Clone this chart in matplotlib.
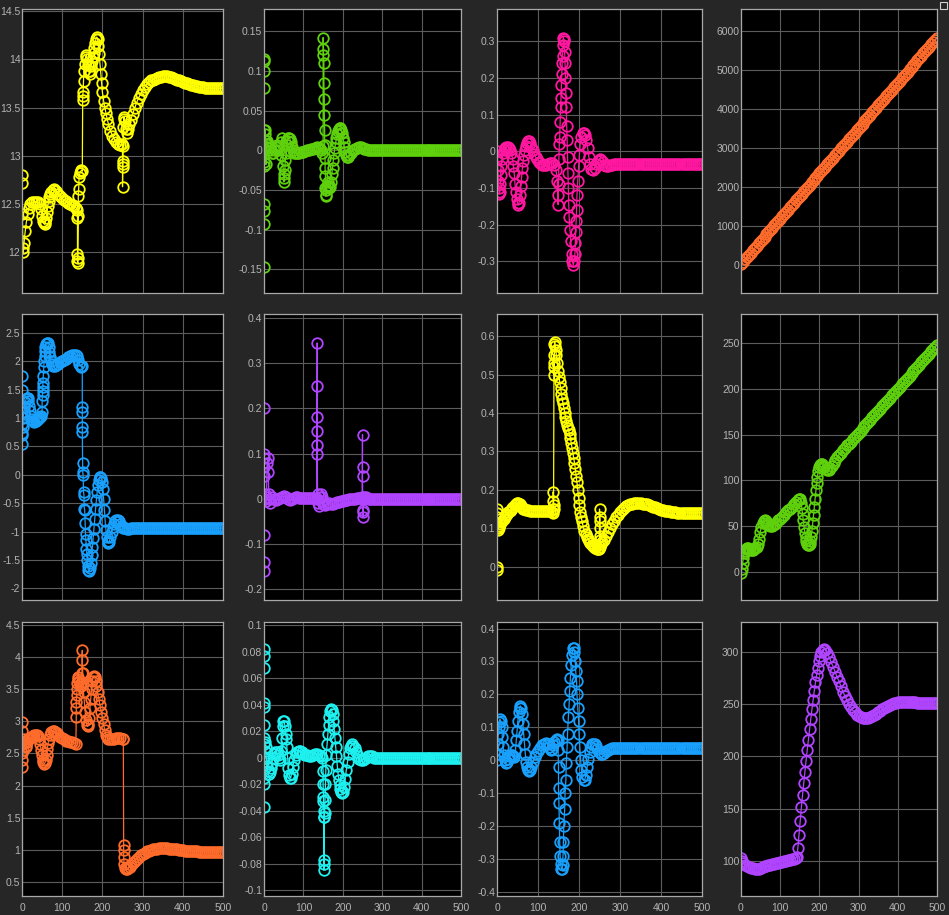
import matplotlib
matplotlib.use("Agg")
import matplotlib.pyplot as plt
from matplotlib.patches import Rectangle

# ---------------- data (time, value) ----------------
yellow_a = [(0,12.80),(0,12.72),(1,12.40),(2,12.05),(3,12.00),(5,12.10),(8,12.22),(11,12.32),(14,12.40),(17,12.46),
    (20,12.50),(25,12.52),(30,12.52),(35,12.52),(40,12.52),(44,12.50),(47,12.45),(50,12.38),(52,12.33),(54,12.30),
    (56,12.29),(58,12.31),(60,12.36),(62,12.42),(64,12.48),(66,12.53),(68,12.57),(70,12.60),(73,12.63),(76,12.65),
    (80,12.66),(85,12.64),(90,12.61),(95,12.58),(100,12.56),(105,12.54),(110,12.53),(115,12.51),(120,12.50),(125,12.49),
    (130,12.48),(135,12.46),(138,12.44),(138,12.36),(138,11.98),(138,11.91),(139,11.89),(139,11.94),(140,12.38),(140,12.58),
    (141,12.66),(142,12.78),(144,12.82),(146,12.84),(148,12.85),(150,12.84),(151,13.58),(151,13.62),(152,13.66),(153,13.77),
    (154,13.88),(156,13.95),(158,14.02),(160,14.04),(162,14.00),(164,13.94),(166,13.88),(168,13.85),(170,13.88),(172,13.93),
    (174,13.98),(176,14.02),(178,14.06),(180,14.12),(182,14.17),(184,14.21),(186,14.23),(188,14.21),(190,14.14),(192,14.05),
    (194,13.95),(196,13.85),(198,13.75),(200,13.66),(203,13.57),(206,13.50),(209,13.44),(212,13.38),(215,13.33),(220,13.26),
    (225,13.21),(230,13.17),(235,13.14),(240,13.12),(245,13.11),(248,13.12),(250,13.10),(250,12.95),(250,12.88),(250,12.68),
    (251,12.92),(252,13.30),(253,13.38),(254,13.40),(256,13.36),(258,13.28),(261,13.24),(264,13.28),(267,13.33),(270,13.37),
    (275,13.43),(280,13.49),(285,13.55),(290,13.60),(295,13.64),(300,13.68),(305,13.71),(310,13.74),(315,13.76),(320,13.78),
    (325,13.79),(330,13.80),(335,13.81),(340,13.82),(345,13.82),(350,13.83),(355,13.83),(360,13.83),(365,13.82),(370,13.82),
    (375,13.81),(380,13.80),(385,13.79),(390,13.78),(395,13.77),(400,13.76),(405,13.75),(410,13.75),(415,13.74),(420,13.73),
    (425,13.73),(430,13.72),(435,13.72),(440,13.71),(445,13.71),(450,13.71),(455,13.70),(460,13.70),(465,13.70),(470,13.70),
    (475,13.70),(480,13.70),(485,13.70),(490,13.70),(495,13.70),(500,13.70)]

green_a = [(0,0.0),(0,0.115),(0,0.112),(0,0.100),(0,0.078),(0,0.025),(0,-0.015),(0,-0.068),(0,-0.077),(0,-0.093),
    (0,-0.147),(1,-0.02),(2,0.02),(3,0.025),(4,0.012),(5,-0.018),(6,0.008),(8,0.012),(10,0.008),(12,0.004),
    (15,0.003),(18,0.0),(21,-0.003),(24,-0.004),(27,0.0),(30,0.004),(33,0.006),(36,0.004),(39,0.0),(42,-0.006),
    (44,0.010),(46,0.015),(48,-0.020),(50,-0.030),(51,-0.040),(52,-0.035),(53,-0.025),(54,-0.012),(56,-0.004),(58,0.006),
    (60,0.012),(62,0.015),(64,0.016),(66,0.014),(68,0.010),(70,0.004),(73,0.0),(76,-0.003),(80,-0.004),(85,-0.004),
    (90,-0.003),(95,-0.002),(100,-0.002),(105,-0.001),(110,0.0),(115,0.0),(120,0.001),(125,0.002),(130,0.003),(135,0.004),
    (140,0.003),(145,0.0),(148,-0.003),(150,0.005),(150,0.142),(151,0.128),(151,0.120),(152,0.110),(152,0.085),(153,0.064),
    (153,0.045),(154,0.025),(154,0.006),(155,-0.010),(155,-0.022),(156,-0.032),(156,-0.048),(157,-0.056),(157,-0.058),(158,-0.050),
    (160,-0.045),(162,-0.040),(164,-0.045),(166,-0.048),(168,-0.046),(170,-0.040),(172,-0.030),(174,-0.022),(176,-0.012),(178,-0.003),
    (180,0.003),(182,0.010),(184,0.015),(186,0.020),(188,0.024),(190,0.027),(192,0.028),(194,0.028),(196,0.026),(198,0.022),
    (200,0.016),(202,0.010),(204,0.004),(206,-0.002),(208,-0.006),(210,-0.008),(213,-0.008),(216,-0.006),(220,-0.003),(225,0.0),
    (230,0.002),(235,0.003),(240,0.004),(245,0.004),(250,0.003),(255,0.002),(260,0.001),(265,0.0),(270,0.0),(275,0.0),
    (280,0.0),(285,0.0),(290,0.0),(295,0.0),(300,0.0),(305,0.0),(310,0.0),(315,0.0),(320,0.0),(325,0.0),
    (330,0.0),(335,0.0),(340,0.0),(345,0.0),(350,0.0),(355,0.0),(360,0.0),(365,0.0),(370,0.0),(375,0.0),
    (380,0.0),(385,0.0),(390,0.0),(395,0.0),(400,0.0),(405,0.0),(410,0.0),(415,0.0),(420,0.0),(425,0.0),
    (430,0.0),(435,0.0),(440,0.0),(445,0.0),(450,0.0),(455,0.0),(460,0.0),(465,0.0),(470,0.0),(475,0.0),
    (480,0.0),(485,0.0),(490,0.0),(495,0.0),(500,0.0)]

pink_a = [(0,0.0),(1,-0.02),(2,-0.05),(3,-0.08),(4,-0.10),(5,-0.11),(6,-0.115),(7,-0.11),(8,-0.09),(9,-0.065),
    (10,-0.04),(12,-0.02),(14,-0.005),(17,0.005),(20,0.01),(23,0.012),(26,0.012),(29,0.01),(32,0.005),(35,-0.005),
    (38,-0.02),(40,-0.04),(42,-0.06),(44,-0.09),(46,-0.11),(48,-0.13),(50,-0.14),(52,-0.145),(54,-0.14),(56,-0.12),
    (58,-0.095),(60,-0.07),(62,-0.045),(64,-0.025),(66,-0.01),(68,0.005),(70,0.015),(72,0.022),(75,0.027),(78,0.027),
    (81,0.022),(84,0.013),(87,0.003),(90,-0.006),(94,-0.015),(98,-0.022),(102,-0.028),(106,-0.033),(110,-0.036),(115,-0.038),
    (120,-0.038),(125,-0.035),(130,-0.032),(135,-0.032),(140,-0.038),(144,-0.05),(147,-0.08),(148,-0.12),(149,-0.145),(150,-0.09),
    (151,-0.02),(152,0.02),(153,0.04),(154,0.08),(155,0.12),(156,0.145),(157,0.18),(158,0.21),(159,0.24),(160,0.26),
    (161,0.29),(162,0.31),(163,0.305),(164,0.30),(165,0.27),(166,0.24),(167,0.20),(168,0.16),(169,0.12),(170,0.07),
    (171,0.03),(172,-0.015),(173,-0.06),(174,-0.10),(175,-0.145),(176,-0.18),(178,-0.215),(180,-0.245),(182,-0.28),(184,-0.30),
    (186,-0.31),(188,-0.30),(190,-0.28),(191,-0.25),(192,-0.22),(193,-0.19),(194,-0.16),(195,-0.12),(197,-0.08),(199,-0.04),
    (201,-0.01),(203,0.02),(206,0.04),(209,0.05),(212,0.05),(215,0.045),(218,0.03),(221,0.01),(224,-0.015),(227,-0.035),
    (230,-0.048),(234,-0.05),(238,-0.045),(242,-0.035),(246,-0.027),(250,-0.022),(254,-0.024),(258,-0.03),(262,-0.036),(266,-0.04),
    (270,-0.04),(275,-0.038),(280,-0.036),(285,-0.035),(290,-0.035),(295,-0.035),(300,-0.035),(305,-0.035),(310,-0.035),(315,-0.035),
    (320,-0.035),(325,-0.035),(330,-0.035),(335,-0.035),(340,-0.035),(345,-0.035),(350,-0.035),(355,-0.035),(360,-0.035),(365,-0.035),
    (370,-0.035),(375,-0.035),(380,-0.035),(385,-0.035),(390,-0.035),(395,-0.035),(400,-0.035),(405,-0.035),(410,-0.035),(415,-0.035),
    (420,-0.035),(425,-0.035),(430,-0.035),(435,-0.035),(440,-0.035),(445,-0.035),(450,-0.035),(455,-0.035),(460,-0.035),(465,-0.035),
    (470,-0.035),(475,-0.035),(480,-0.035),(485,-0.035),(490,-0.035),(495,-0.035),(500,-0.035)]

grid_t = list(range(0, 505, 5))
orange_ramp = [40,98,156,214,272,330,388,446,504,562,620,678,736,794,852,910,968,1026,1084,1142,
    1200,1258,1316,1374,1432,1490,1548,1606,1664,1722,1780,1838,1896,1954,2012,2070,2128,2186,2244,2302,
    2360,2418,2476,2534,2592,2650,2708,2766,2824,2882,2940,2998,3056,3114,3172,3230,3288,3346,3404,3462,
    3520,3578,3636,3694,3752,3810,3868,3926,3984,4042,4100,4158,4216,4274,4332,4390,4448,4506,4564,4622,
    4680,4738,4796,4854,4912,4970,5028,5086,5144,5202,5260,5318,5376,5434,5492,5550,5608,5666,5724,5782,5840]

blue_a = [(0,1.75),(0,1.50),(0,1.10),(0,0.90),(0,0.74),(0,0.55),(1,0.70),(2,0.85),(3,1.00),(4,1.10),
    (6,1.20),(8,1.28),(10,1.33),(12,1.36),(14,1.35),(16,1.30),(18,1.22),(20,1.12),(22,1.04),(25,0.98),
    (28,0.95),(31,0.94),(34,0.95),(37,0.97),(40,0.99),(43,1.01),(46,1.02),(48,1.03),(50,1.10),(50,1.30),
    (51,1.40),(51,1.48),(52,1.55),(52,1.62),(53,1.75),(54,1.90),(55,2.00),(56,2.10),(57,2.18),(58,2.25),
    (60,2.30),(62,2.33),(64,2.32),(66,2.26),(68,2.17),(70,2.07),(72,2.00),(75,1.95),(78,1.92),(81,1.91),
    (85,1.93),(90,1.96),(95,1.99),(100,2.01),(105,2.03),(110,2.05),(115,2.07),(120,2.09),(125,2.11),(130,2.12),
    (134,2.12),(137,2.09),(140,2.02),(143,1.95),(146,1.92),(148,1.90),(150,1.92),(150,1.20),(150,1.10),(150,0.85),
    (150,0.75),(151,0.20),(151,0.05),(152,0.00),(153,-0.30),(154,-0.35),(155,-0.60),(156,-0.62),(157,-0.85),(158,-1.05),
    (159,-1.15),(160,-1.30),(161,-1.40),(162,-1.50),(163,-1.60),(165,-1.68),(167,-1.70),(169,-1.65),(171,-1.55),(173,-1.42),
    (175,-1.28),(177,-1.12),(179,-0.95),(181,-0.78),(183,-0.60),(185,-0.45),(187,-0.30),(189,-0.18),(191,-0.09),(193,-0.04),
    (195,-0.03),(197,-0.05),(199,-0.12),(201,-0.25),(203,-0.42),(205,-0.62),(207,-0.82),(209,-0.98),(211,-1.10),(213,-1.17),
    (215,-1.20),(217,-1.18),(220,-1.10),(223,-1.00),(226,-0.92),(229,-0.86),(232,-0.82),(235,-0.80),(238,-0.80),(241,-0.82),
    (244,-0.86),(248,-0.90),(252,-0.93),(256,-0.94),(260,-0.95),(265,-0.95),(270,-0.94),(275,-0.94),(280,-0.93),(285,-0.93),
    (290,-0.93),(295,-0.94),(300,-0.94),(305,-0.94),(310,-0.94),(315,-0.94),(320,-0.94),(325,-0.94),(330,-0.94),(335,-0.94),
    (340,-0.94),(345,-0.94),(350,-0.94),(355,-0.94),(360,-0.94),(365,-0.94),(370,-0.94),(375,-0.94),(380,-0.94),(385,-0.94),
    (390,-0.94),(395,-0.94),(400,-0.94),(405,-0.94),(410,-0.94),(415,-0.94),(420,-0.94),(425,-0.94),(430,-0.94),(435,-0.94),
    (440,-0.94),(445,-0.94),(450,-0.94),(455,-0.94),(460,-0.94),(465,-0.94),(470,-0.94),(475,-0.94),(480,-0.94),(485,-0.94),
    (490,-0.94),(495,-0.94),(500,-0.94)]

purple_a = [(0,0.0),(0,0.20),(0,0.10),(0,0.09),(0,0.07),(0,0.05),(0,-0.08),(0,-0.14),(0,-0.16),(1,0.0),
    (2,0.01),(4,0.005),(6,-0.005),(8,0.08),(10,0.09),(11,0.06),(12,0.01),(14,-0.01),(16,0.0),(20,0.005),
    (25,0.0),(30,-0.002),(35,0.0),(40,0.002),(45,0.004),(50,0.006),(55,0.004),(60,0.0),(65,-0.002),(70,0.0),
    (75,0.002),(80,0.003),(85,0.003),(90,0.002),(95,0.002),(100,0.002),(105,0.002),(110,0.002),(115,0.002),(120,0.002),
    (125,0.002),(130,0.002),(134,0.0),(135,0.345),(135,0.25),(135,0.18),(135,0.15),(135,0.12),(135,0.10),(136,0.01),
    (138,-0.01),(140,-0.015),(142,0.005),(144,0.01),(146,0.005),(148,-0.005),(150,-0.012),(155,-0.014),(160,-0.012),(165,-0.01),
    (170,-0.012),(175,-0.012),(180,-0.01),(185,-0.008),(190,-0.006),(195,-0.005),(200,-0.004),(205,-0.003),(210,-0.002),(215,-0.001),
    (220,0.0),(225,0.0),(230,0.0),(235,0.001),(240,0.002),(245,0.002),(249,0.003),(250,0.142),(250,0.07),(250,0.05),
    (251,-0.025),(251,-0.03),(251,-0.04),(252,0.0),(254,0.005),(258,0.003),(262,0.002),(266,0.0),(270,0.0),(275,0.0),
    (280,0.0),(285,0.0),(290,0.0),(295,0.0),(300,0.0),(305,0.0),(310,0.0),(315,0.0),(320,0.0),(325,0.0),
    (330,0.0),(335,0.0),(340,0.0),(345,0.0),(350,0.0),(355,0.0),(360,0.0),(365,0.0),(370,0.0),(375,0.0),
    (380,0.0),(385,0.0),(390,0.0),(395,0.0),(400,0.0),(405,0.0),(410,0.0),(415,0.0),(420,0.0),(425,0.0),
    (430,0.0),(435,0.0),(440,0.0),(445,0.0),(450,0.0),(455,0.0),(460,0.0),(465,0.0),(470,0.0),(475,0.0),
    (480,0.0),(485,0.0),(490,0.0),(495,0.0),(500,0.0)]

yellow_b = [(0,-0.01),(0,0.0),(0,0.14),(0,0.15),(0,0.13),(1,0.10),(2,0.095),(4,0.10),(6,0.105),(8,0.11),
    (10,0.115),(13,0.12),(16,0.125),(19,0.13),(22,0.135),(25,0.138),(28,0.141),(31,0.144),(34,0.148),(37,0.152),
    (40,0.156),(43,0.16),(46,0.163),(49,0.165),(52,0.165),(55,0.162),(58,0.158),(61,0.154),(64,0.151),(67,0.149),
    (70,0.148),(75,0.147),(80,0.146),(85,0.146),(90,0.146),(95,0.146),(100,0.146),(105,0.146),(110,0.146),(115,0.146),
    (120,0.145),(125,0.145),(130,0.144),(134,0.143),(136,0.14),(137,0.15),(137,0.17),(137,0.195),(138,0.16),(138,0.15),
    (139,0.55),(139,0.52),(139,0.50),(140,0.53),(140,0.58),(141,0.585),(142,0.575),(143,0.565),(145,0.55),(147,0.53),
    (149,0.51),(151,0.495),(153,0.48),(155,0.465),(157,0.45),(159,0.437),(161,0.425),(163,0.412),(165,0.40),(167,0.39),
    (169,0.38),(171,0.37),(173,0.362),(175,0.355),(177,0.345),(179,0.335),(181,0.322),(183,0.31),(185,0.297),(187,0.283),
    (189,0.27),(191,0.255),(193,0.237),(195,0.22),(197,0.2),(199,0.18),(201,0.16),(203,0.143),(205,0.13),(207,0.12),
    (210,0.105),(213,0.094),(216,0.085),(219,0.078),(222,0.072),(225,0.066),(228,0.061),(231,0.057),(234,0.053),(237,0.05),
    (240,0.048),(243,0.047),(246,0.046),(248,0.046),(250,0.05),(250,0.08),(250,0.1),(250,0.12),(250,0.15),(251,0.13),
    (252,0.07),(254,0.06),(257,0.065),(260,0.07),(265,0.08),(270,0.09),(275,0.1),(280,0.11),(285,0.12),(290,0.128),
    (295,0.135),(300,0.142),(305,0.148),(310,0.153),(315,0.157),(320,0.16),(325,0.162),(330,0.164),(335,0.165),(340,0.165),
    (345,0.165),(350,0.165),(355,0.164),(360,0.163),(365,0.162),(370,0.16),(375,0.158),(380,0.156),(385,0.154),(390,0.152),
    (395,0.15),(400,0.148),(405,0.147),(410,0.146),(415,0.145),(420,0.144),(425,0.143),(430,0.142),(435,0.141),(440,0.14),
    (445,0.14),(450,0.14),(455,0.14),(460,0.14),(465,0.14),(470,0.14),(475,0.14),(480,0.14),(485,0.14),(490,0.14),
    (495,0.14),(500,0.14)]

green_b = [(0,-2),(2,3),(4,9),(6,15),(8,20),(10,23),(12,25),(15,26),(18,26),(21,25),
    (24,24),(27,24),(30,24),(33,25),(36,26),(40,27),(43,30),(46,36),(49,43),(52,49),
    (55,53),(58,55),(61,56),(64,55),(67,53),(70,51),(74,50),(78,50),(82,51),(86,52),
    (90,53),(95,56),(100,58),(105,60),(110,62),(115,65),(120,67),(125,69),(130,71),(135,74),
    (140,76),(145,78),(148,80),(151,79),(153,75),(155,70),(157,63),(159,56),(161,49),(163,42),
    (165,37),(167,33),(169,30),(171,29),(173,29),(175,30),(177,33),(179,38),(181,45),(183,53),
    (185,62),(187,71),(189,80),(191,89),(193,97),(195,104),(197,110),(199,114),(201,117),(203,118),
    (206,118),(209,116),(212,114),(216,112),(220,111),(224,111),(228,113),(232,116),(236,119),(240,122),
    (245,125),(250,128),(255,130),(260,133),(265,135),(270,138),(275,140),(280,142),(285,145),(290,147),
    (295,150),(300,152),(305,154),(310,157),(315,159),(320,162),(325,164),(330,166),(335,169),(340,171),
    (345,174),(350,176),(355,178),(360,181),(365,183),(370,186),(375,188),(380,190),(385,193),(390,195),
    (395,198),(400,200),(405,202),(410,205),(415,207),(420,210),(425,212),(430,214),(435,217),(440,219),
    (445,222),(450,224),(455,226),(460,229),(465,231),(470,234),(475,236),(480,238),(485,241),(490,243),
    (495,246),(500,248)]

orange_b = [(0,2.99),(0,2.85),(0,2.50),(0,2.29),(1,2.40),(2,2.55),(3,2.65),(5,2.72),(7,2.68),(9,2.60),
    (11,2.62),(13,2.68),(16,2.72),(19,2.74),(22,2.75),(25,2.76),(28,2.77),(31,2.78),(34,2.78),(37,2.78),
    (40,2.77),(43,2.72),(45,2.65),(47,2.56),(49,2.47),(51,2.40),(53,2.36),(55,2.34),(57,2.35),(59,2.40),
    (61,2.48),(63,2.57),(65,2.66),(67,2.73),(70,2.79),(73,2.83),(76,2.85),(79,2.85),(82,2.84),(86,2.81),
    (90,2.78),(95,2.76),(100,2.74),(105,2.72),(110,2.70),(115,2.69),(120,2.68),(125,2.67),(130,2.66),(134,2.65),
    (135,3.07),(135,3.20),(135,3.30),(136,3.40),(137,3.50),(138,3.60),(139,3.66),(140,3.68),(142,3.62),(144,3.58),
    (146,3.55),(148,3.60),(149,3.75),(150,4.10),(150,3.95),(151,3.75),(152,3.60),(153,3.45),(155,3.30),(157,3.15),
    (159,3.02),(161,2.94),(163,2.92),(165,2.95),(167,3.05),(169,3.20),(171,3.35),(173,3.50),(175,3.62),(177,3.68),
    (179,3.70),(181,3.68),(183,3.62),(185,3.55),(188,3.45),(191,3.35),(194,3.25),(197,3.15),(200,3.05),(203,2.95),
    (206,2.86),(209,2.79),(212,2.75),(215,2.73),(220,2.72),(225,2.72),(230,2.73),(235,2.74),(240,2.74),(245,2.74),
    (250,2.73),(252,2.72),(253,1.08),(253,1.00),(253,0.90),(254,0.78),(256,0.72),(258,0.70),(261,0.70),(264,0.72),
    (268,0.74),(272,0.77),(276,0.80),(280,0.83),(285,0.86),(290,0.89),(295,0.92),(300,0.94),(305,0.96),(310,0.98),
    (315,0.99),(320,1.00),(325,1.01),(330,1.02),(335,1.02),(340,1.03),(345,1.03),(350,1.03),(355,1.03),(360,1.03),
    (365,1.02),(370,1.02),(375,1.02),(380,1.01),(385,1.01),(390,1.00),(395,1.00),(400,1.00),(405,0.99),(410,0.99),
    (415,0.99),(420,0.98),(425,0.98),(430,0.98),(435,0.98),(440,0.97),(445,0.97),(450,0.97),(455,0.97),(460,0.97),
    (465,0.97),(470,0.97),(475,0.97),(480,0.97),(485,0.97),(490,0.97),(495,0.97),(500,0.97)]

cyan_a = [(0,0.0),(0,0.082),(0,0.077),(0,0.068),(0,0.041),(0,0.038),(0,0.025),(0,0.015),(0,0.010),(0,-0.015),
    (0,-0.037),(1,-0.02),(2,0.005),(3,0.012),(4,0.008),(6,0.0),(8,-0.006),(10,-0.010),(12,-0.012),(14,-0.011),
    (17,-0.008),(20,-0.004),(23,0.0),(26,0.003),(29,0.004),(32,0.004),(35,0.002),(38,0.0),(41,-0.002),(43,0.005),
    (45,0.015),(47,0.024),(49,0.028),(51,0.028),(53,0.024),(55,0.018),(57,0.014),(58,0.008),(60,0.0),(62,-0.008),
    (64,-0.013),(66,-0.015),(68,-0.015),(70,-0.012),(73,-0.007),(76,-0.002),(80,0.002),(84,0.004),(88,0.005),(92,0.005),
    (96,0.004),(100,0.003),(105,0.002),(110,0.002),(115,0.001),(120,0.001),(125,0.002),(130,0.003),(135,0.003),(140,0.002),
    (145,0.001),(148,0.0),(150,-0.010),(150,-0.020),(151,-0.030),(151,-0.033),(152,-0.040),(152,-0.045),(152,-0.077),(152,-0.080),
    (152,-0.085),(153,-0.045),(154,-0.042),(155,-0.032),(156,-0.020),(157,-0.009),(158,0.002),(160,0.010),(162,0.018),(164,0.025),
    (166,0.031),(168,0.035),(170,0.037),(172,0.036),(174,0.033),(176,0.028),(178,0.022),(180,0.015),(182,0.008),(184,0.001),
    (186,-0.006),(188,-0.012),(190,-0.017),(192,-0.021),(194,-0.024),(196,-0.026),(198,-0.027),(200,-0.026),(203,-0.022),(206,-0.016),
    (209,-0.009),(212,-0.003),(215,0.003),(218,0.007),(221,0.009),(224,0.010),(227,0.009),(230,0.007),(234,0.004),(238,0.001),
    (242,-0.001),(246,-0.002),(250,-0.002),(255,-0.001),(260,0.0),(265,0.001),(270,0.001),(275,0.001),(280,0.0),(285,0.0),
    (290,0.0),(295,0.0),(300,0.0),(305,0.0),(310,0.0),(315,0.0),(320,0.0),(325,0.0),(330,0.0),(335,0.0),
    (340,0.0),(345,0.0),(350,0.0),(355,0.0),(360,0.0),(365,0.0),(370,0.0),(375,0.0),(380,0.0),(385,0.0),
    (390,0.0),(395,0.0),(400,0.0),(405,0.0),(410,0.0),(415,0.0),(420,0.0),(425,0.0),(430,0.0),(435,0.0),
    (440,0.0),(445,0.0),(450,0.0),(455,0.0),(460,0.0),(465,0.0),(470,0.0),(475,0.0),(480,0.0),(485,0.0),
    (490,0.0),(495,0.0),(500,0.0)]

blue_b = [(0,0.0),(1,0.02),(2,0.05),(3,0.08),(4,0.10),(5,0.115),(7,0.125),(9,0.12),(11,0.10),(13,0.07),
    (15,0.04),(17,0.015),(19,0.0),(21,-0.01),(24,-0.005),(27,0.005),(30,0.012),(33,0.015),(36,0.015),(39,0.012),
    (42,0.01),(45,0.03),(47,0.06),(49,0.09),(51,0.12),(53,0.145),(55,0.16),(57,0.165),(59,0.16),(61,0.14),
    (63,0.11),(65,0.08),(67,0.05),(69,0.02),(71,-0.005),(73,-0.02),(75,-0.03),(77,-0.032),(80,-0.03),(84,-0.02),
    (88,-0.005),(92,0.01),(96,0.02),(100,0.028),(105,0.037),(110,0.045),(115,0.05),(120,0.053),(124,0.05),(128,0.04),
    (131,0.032),(134,0.035),(137,0.045),(140,0.055),(143,0.062),(146,0.065),(148,0.06),(149,0.03),(150,-0.02),(150,-0.086),
    (151,-0.13),(152,-0.19),(153,-0.25),(154,-0.29),(155,-0.315),(157,-0.33),(159,-0.33),(160,-0.32),(161,-0.29),(162,-0.25),
    (163,-0.20),(165,-0.15),(166,-0.10),(168,-0.06),(169,-0.01),(171,0.04),(172,0.08),(174,0.13),(176,0.17),(177,0.21),
    (179,0.25),(181,0.29),(183,0.32),(185,0.34),(187,0.34),(189,0.33),(191,0.30),(192,0.27),(194,0.24),(195,0.20),
    (197,0.16),(199,0.12),(200,0.08),(202,0.04),(204,0.0),(206,-0.03),(208,-0.05),(211,-0.06),(214,-0.06),(217,-0.045),
    (220,-0.02),(223,0.005),(226,0.025),(229,0.04),(232,0.048),(235,0.05),(238,0.048),(241,0.042),(245,0.033),(249,0.025),
    (253,0.02),(257,0.02),(261,0.022),(265,0.027),(270,0.032),(275,0.035),(280,0.037),(285,0.038),(290,0.038),(295,0.038),
    (300,0.038),(305,0.038),(310,0.038),(315,0.038),(320,0.038),(325,0.038),(330,0.038),(335,0.038),(340,0.038),(345,0.038),
    (350,0.038),(355,0.038),(360,0.038),(365,0.038),(370,0.038),(375,0.038),(380,0.038),(385,0.038),(390,0.038),(395,0.038),
    (400,0.038),(405,0.038),(410,0.038),(415,0.038),(420,0.038),(425,0.038),(430,0.038),(435,0.038),(440,0.038),(445,0.038),
    (450,0.038),(455,0.038),(460,0.038),(465,0.038),(470,0.038),(475,0.038),(480,0.038),(485,0.038),(490,0.038),(495,0.038),
    (500,0.038)]

purple_b = [(0,103),(2,100),(5,98),(10,96),(15,95),(20,94),(25,93),(30,93),(35,92),(40,92),
    (45,92),(50,93),(55,94),(60,95),(65,95),(70,96),(75,96),(80,97),(85,97),(90,98),
    (95,98),(100,99),(105,99),(110,100),(115,100),(120,101),(125,101),(130,102),(135,102),(140,103),
    (143,104),(145,112),(148,125),(151,138),(154,151),(157,163),(160,174),(163,185),(166,196),(169,206),
    (172,216),(175,226),(178,236),(181,245),(184,254),(187,263),(190,271),(193,278),(196,285),(199,291),
    (202,296),(205,300),(208,302),(211,303),(215,302),(220,299),(225,295),(230,290),(235,286),(240,281),
    (245,276),(250,272),(255,267),(260,262),(265,258),(270,254),(275,250),(280,247),(285,244),(290,242),
    (295,240),(300,239),(305,238),(310,237),(315,237),(320,237),(325,237),(330,238),(335,239),(340,240),
    (345,241),(350,242),(355,243),(360,245),(365,246),(370,247),(375,248),(380,249),(385,250),(390,251),
    (395,251),(400,252),(405,252),(410,252),(415,252),(420,252),(425,252),(430,252),(435,252),(440,252),
    (445,252),(450,251),(455,251),(460,251),(465,251),(470,251),(475,251),(480,251),(485,251),(490,251),
    (495,251),(500,251)]

x_ticks = [0, 100, 200, 300, 400, 500]
x_labels = ["0", "100", "200", "300", "400", "500"]

YELLOW = "#ffff00"
GREEN = "#5fd10c"
PINK = "#ff17a0"
ORANGE = "#ff6b2b"
BLUE = "#18a0fc"
PURPLE = "#b044ff"
CYAN = "#1ef0f0"

# (series, color, (ymin, ymax), yticks, yticklabels)
panels = [
    [(yellow_a, YELLOW, (11.58, 14.52), [12, 12.5, 13, 13.5, 14, 14.5], ["12", "12.5", "13", "13.5", "14", "14.5"]),
     (green_a, GREEN, (-0.180, 0.178), [-0.15, -0.1, -0.05, 0, 0.05, 0.1, 0.15],
      ["-0.15", "-0.1", "-0.05", "0", "0.05", "0.1", "0.15"]),
     (pink_a, PINK, (-0.386, 0.388), [-0.3, -0.2, -0.1, 0, 0.1, 0.2, 0.3],
      ["-0.3", "-0.2", "-0.1", "0", "0.1", "0.2", "0.3"]),
     (list(zip(grid_t, orange_ramp)), ORANGE, (-708, 6574), [0, 1000, 2000, 3000, 4000, 5000, 6000],
      ["0", "1000", "2000", "3000", "4000", "5000", "6000"])],
    [(blue_a, BLUE, (-2.206, 2.835), [-2, -1.5, -1, -0.5, 0, 0.5, 1, 1.5, 2, 2.5],
      ["-2", "-1.5", "-1", "-0.5", "0", "0.5", "1", "1.5", "2", "2.5"]),
     (purple_a, PURPLE, (-0.224, 0.409), [-0.2, -0.1, 0, 0.1, 0.2, 0.3, 0.4],
      ["-0.2", "-0.1", "0", "0.1", "0.2", "0.3", "0.4"]),
     (yellow_b, YELLOW, (-0.087, 0.658), [0, 0.1, 0.2, 0.3, 0.4, 0.5, 0.6],
      ["0", "0.1", "0.2", "0.3", "0.4", "0.5", "0.6"]),
     (green_b, GREEN, (-31, 281.8), [0, 50, 100, 150, 200, 250], ["0", "50", "100", "150", "200", "250"])],
    [(orange_b, ORANGE, (0.287, 4.54), [0.5, 1, 1.5, 2, 2.5, 3, 3.5, 4, 4.5],
      ["0.5", "1", "1.5", "2", "2.5", "3", "3.5", "4", "4.5"]),
     (cyan_a, CYAN, (-0.1045, 0.1025), [-0.1, -0.08, -0.06, -0.04, -0.02, 0, 0.02, 0.04, 0.06, 0.08, 0.1],
      ["-0.1", "-0.08", "-0.06", "-0.04", "-0.02", "0", "0.02", "0.04", "0.06", "0.08", "0.1"]),
     (blue_b, BLUE, (-0.413, 0.42), [-0.4, -0.3, -0.2, -0.1, 0, 0.1, 0.2, 0.3, 0.4],
      ["-0.4", "-0.3", "-0.2", "-0.1", "0", "0.1", "0.2", "0.3", "0.4"]),
     (purple_b, PURPLE, (66.2, 328.7), [100, 150, 200, 250, 300], ["100", "150", "200", "250", "300"])],
]

# ---------------- layout ----------------
W, H = 949, 915
col_edges = [(22, 223), (264, 461), (497, 702), (741, 937)]
row_edges = [(9, 293), (314, 600), (622, 896)]

plt.rcParams["font.family"] = ["Liberation Sans", "DejaVu Sans"]
fig = plt.figure(figsize=(W / 100, H / 100), dpi=100, facecolor="#262626")

for r, row in enumerate(panels):
    for c, (series, color, ylim, yt, ytl) in enumerate(row):
        l, rr = col_edges[c]
        t, b = row_edges[r]
        ax = fig.add_axes([l / W, 1 - b / H, (rr - l) / W, (b - t) / H])
        ax.set_facecolor("black")
        xs = [p[0] for p in series]
        ys = [p[1] for p in series]
        ax.plot(xs, ys, "-", color=color, lw=0.9, marker="o", ms=7.6, mfc="none",
                mec=color, mew=1.3)
        ax.set_xlim(0, 500)
        ax.set_ylim(*ylim)
        ax.set_yticks(yt)
        ax.set_yticklabels(ytl)
        ax.set_xticks(x_ticks)
        if r == 2:
            ax.set_xticklabels(x_labels)
        else:
            ax.set_xticklabels([])
        ax.grid(True, color="#5c5c5c", lw=0.8)
        ax.set_axisbelow(True)
        ax.tick_params(axis="both", length=0, labelsize=7.5, colors="#b4b4b4")
        ax.tick_params(axis="y", pad=1.2)
        ax.tick_params(axis="x", pad=5)
        for s in ax.spines.values():
            s.set_color("#a8a8a8")
            s.set_linewidth(0.9)

# small export icon at top right
fig.patches.append(Rectangle((940 / W, 1 - 9 / H), 7 / W, 7 / H, transform=fig.transFigure,
                             fill=False, edgecolor="#d0d0d0", lw=0.8))

fig.savefig("out.png", dpi=100, facecolor=fig.get_facecolor())
